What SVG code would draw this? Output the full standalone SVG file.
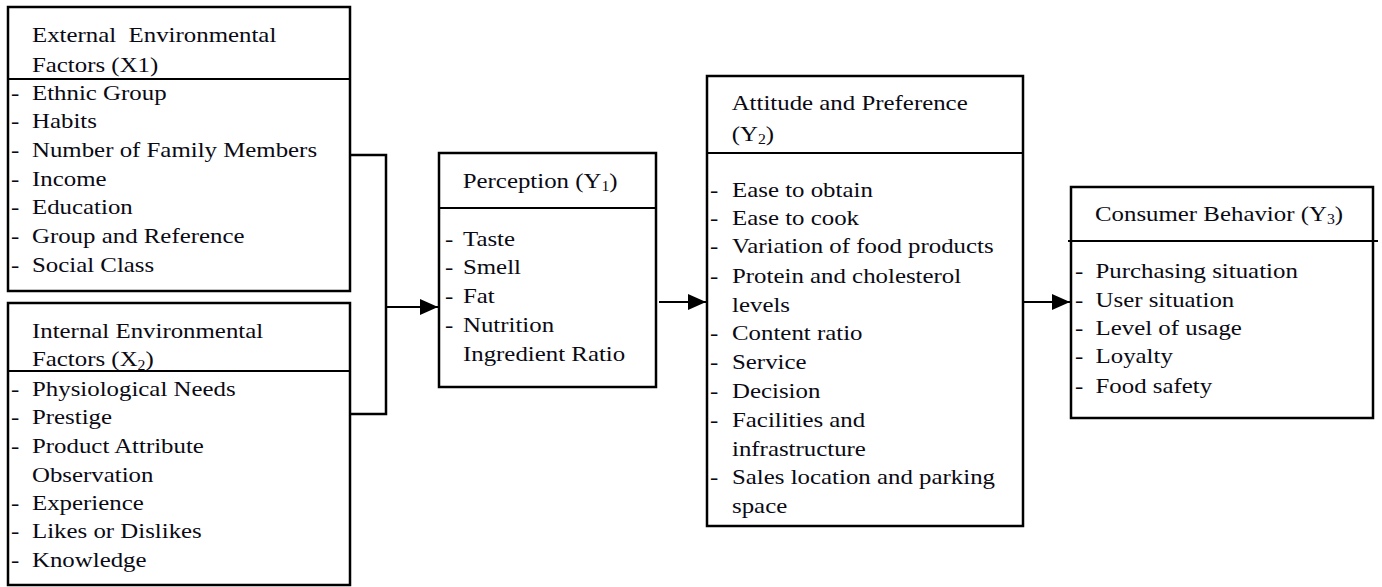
<svg xmlns="http://www.w3.org/2000/svg" width="1382" height="587" viewBox="0 0 1382 587">
<style>
.box{fill:#fff;stroke:#000;stroke-width:2.5}
.div{stroke:#000;stroke-width:2}
.t{font-family:"Liberation Serif","Times New Roman",serif;font-size:22px;fill:#0a0a14}
.con{fill:none;stroke:#000;stroke-width:2.5}
.arr{fill:none;stroke:#000;stroke-width:2}
</style>
<defs>
<marker id="ah" markerUnits="userSpaceOnUse" markerWidth="19" markerHeight="18" refX="18" refY="9" orient="auto">
<path d="M0,1 L18,9 L0,17 z" fill="#000"/>
</marker>
</defs>
<rect width="1382" height="587" fill="#fff"/>

<g id="connectors">
<polyline class="con" points="350,155 386,155 386,414 350,414"/>
<line class="arr" x1="386" y1="307" x2="438" y2="307" marker-end="url(#ah)"/>
<line class="arr" x1="659" y1="302" x2="706" y2="302" marker-end="url(#ah)"/>
<line class="arr" x1="1020" y1="302" x2="1070" y2="302" marker-end="url(#ah)"/>
</g>

<g id="x1">
<rect class="box" x="8" y="7" width="342" height="284"/>
<line class="div" x1="8" y1="79" x2="350" y2="79"/>
<g class="t" transform="scale(1.13 1)">
<text x="28.3" y="42" xml:space="preserve">External  Environmental</text>
<text x="28.3" y="72">Factors (X1)</text>
<text x="9.7" y="100">-</text><text x="28.3" y="100">Ethnic Group</text>
<text x="9.7" y="128">-</text><text x="28.3" y="128">Habits</text>
<text x="9.7" y="157">-</text><text x="28.3" y="157">Number of Family Members</text>
<text x="9.7" y="186">-</text><text x="28.3" y="186">Income</text>
<text x="9.7" y="214">-</text><text x="28.3" y="214">Education</text>
<text x="9.7" y="243">-</text><text x="28.3" y="243">Group and Reference</text>
<text x="9.7" y="272">-</text><text x="28.3" y="272">Social Class</text>
</g>
</g>

<g id="x2">
<rect class="box" x="8" y="303" width="342" height="282"/>
<g class="t" transform="scale(1.13 1)">
<text x="28.3" y="338">Internal Environmental</text>
<text x="28.3" y="366">Factors (X<tspan font-size="14" dy="4">2</tspan><tspan dy="-4">)</tspan></text>
<text x="9.7" y="396">-</text><text x="28.3" y="396">Physiological Needs</text>
<text x="9.7" y="424">-</text><text x="28.3" y="424">Prestige</text>
<text x="9.7" y="453">-</text><text x="28.3" y="453">Product Attribute</text>
<text x="28.3" y="482">Observation</text>
<text x="9.7" y="510">-</text><text x="28.3" y="510">Experience</text>
<text x="9.7" y="538">-</text><text x="28.3" y="538">Likes or Dislikes</text>
<text x="9.7" y="567">-</text><text x="28.3" y="567">Knowledge</text>
</g>
<line class="div" x1="8" y1="371" x2="350" y2="371"/>
</g>

<g id="y1">
<rect class="box" x="439" y="153" width="217" height="234"/>
<line class="div" x1="439" y1="208" x2="656" y2="208"/>
<g class="t" transform="scale(1.13 1)">
<text x="409.5" y="188">Perception (Y<tspan font-size="14" dy="3">1</tspan><tspan dy="-3">)</tspan></text>
<text x="393.8" y="246">-</text><text x="409.7" y="246">Taste</text>
<text x="393.8" y="274">-</text><text x="409.7" y="274">Smell</text>
<text x="393.8" y="303">-</text><text x="409.7" y="303">Fat</text>
<text x="393.8" y="332">-</text><text x="409.7" y="332">Nutrition</text>
<text x="409.7" y="361">Ingredient Ratio</text>
</g>
</g>

<g id="y2">
<rect class="box" x="707" y="76" width="316" height="450"/>
<line class="div" x1="707" y1="153" x2="1023" y2="153"/>
<g class="t" transform="scale(1.13 1)">
<text x="647.5" y="110">Attitude and Preference</text>
<text x="647.5" y="141">(Y<tspan font-size="14" dy="3">2</tspan><tspan dy="-3">)</tspan></text>
<text x="628.3" y="197">-</text><text x="647.8" y="197">Ease to obtain</text>
<text x="628.3" y="225">-</text><text x="647.8" y="225">Ease to cook</text>
<text x="628.3" y="253">-</text><text x="647.8" y="253">Variation of food products</text>
<text x="628.3" y="283">-</text><text x="647.8" y="283">Protein and cholesterol</text>
<text x="647.8" y="312">levels</text>
<text x="628.3" y="340">-</text><text x="647.8" y="340">Content ratio</text>
<text x="628.3" y="369">-</text><text x="647.8" y="369">Service</text>
<text x="628.3" y="398">-</text><text x="647.8" y="398">Decision</text>
<text x="628.3" y="427">-</text><text x="647.8" y="427">Facilities and</text>
<text x="647.8" y="456">infrastructure</text>
<text x="628.3" y="484">-</text><text x="647.8" y="484">Sales location and parking</text>
<text x="647.8" y="513">space</text>
</g>
</g>

<g id="y3">
<rect class="box" x="1071" y="187" width="302" height="231"/>
<line class="div" x1="1068" y1="241" x2="1378" y2="241"/>
<g class="t" transform="scale(1.13 1)">
<text x="969" y="221">Consumer Behavior (Y<tspan font-size="14" dy="3">3</tspan><tspan dy="-3">)</tspan></text>
<text x="951.3" y="278">-</text><text x="969.5" y="278">Purchasing situation</text>
<text x="951.3" y="307">-</text><text x="969.5" y="307">User situation</text>
<text x="951.3" y="335">-</text><text x="969.5" y="335">Level of usage</text>
<text x="951.3" y="363">-</text><text x="969.5" y="363">Loyalty</text>
<text x="951.3" y="393">-</text><text x="969.5" y="393">Food safety</text>
</g>
</g>
</svg>
